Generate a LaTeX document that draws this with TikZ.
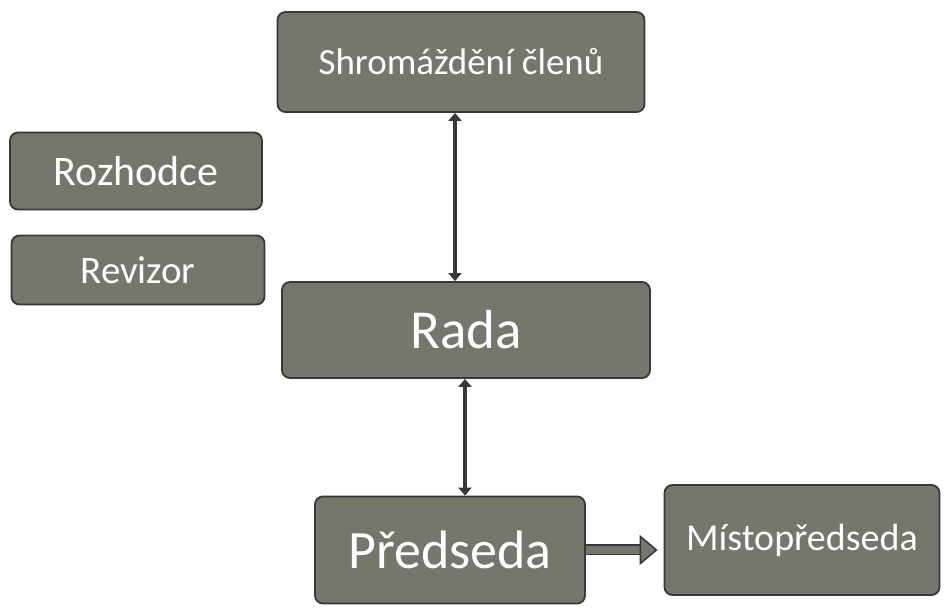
\documentclass[tikz,border=0pt]{standalone}
\usepackage{fontspec}
\setmainfont{Carlito}
\usetikzlibrary{arrows.meta}
\definecolor{boxfill}{RGB}{118,119,108}
\definecolor{boxedge}{RGB}{58,54,58}
\tikzset{
  orgbox/.style={draw=boxedge, line width=1.8pt, fill=boxfill, rounded corners=8pt,
    text=white, minimum width=#1, inner sep=0pt},
  link/.style={draw=boxedge, line width=3.5pt, {Triangle[length=8pt,width=13pt]}-{Triangle[length=8pt,width=13pt]}},
  bigarrow/.style={draw=boxedge, double=boxfill, double distance=8pt, line width=1.5pt,
    shorten >=6pt, -{Triangle[length=18pt,width=30pt,fill=boxfill]}}
}
\begin{document}
\begin{tikzpicture}[x=1pt, y=-1pt]
  \useasboundingbox (0,0) rectangle (946,609);

  % top of the structure
  \node [orgbox=367pt, minimum height=100pt, font=\fontsize{37}{44}\selectfont] (shrom) at (461,62) {Shromáždění členů};

  % control bodies
  \node [orgbox=252pt, minimum height=77pt, font=\fontsize{42}{48}\selectfont] (rozh) at (136,171) {Rozhodce};
  \node [orgbox=253pt, minimum height=69pt, font=\fontsize{39}{46}\selectfont] (revi) at (138,270) {Revizor};

  % board and chair
  \node [orgbox=368pt, minimum height=96pt, font=\fontsize{55}{62}\selectfont] (rada) at (466,330) {Rada};
  \node [orgbox=270pt, minimum height=107pt, font=\fontsize{54}{62}\selectfont] (pred) at (450,550) {Předseda};
  \node [orgbox=275pt, minimum height=110pt, font=\fontsize{38}{44}\selectfont] (mist) at (802,540) {Místopředseda};

  % links
  \draw [link] (shrom.south -| 455,0) -- (rada.north -| 455,0);
  \draw [link] (rada.south -| 465,0) -- (pred.north -| 465,0);
  \draw [bigarrow] (pred.east) -- (mist.west |- pred.east);

\end{tikzpicture}
\end{document}
